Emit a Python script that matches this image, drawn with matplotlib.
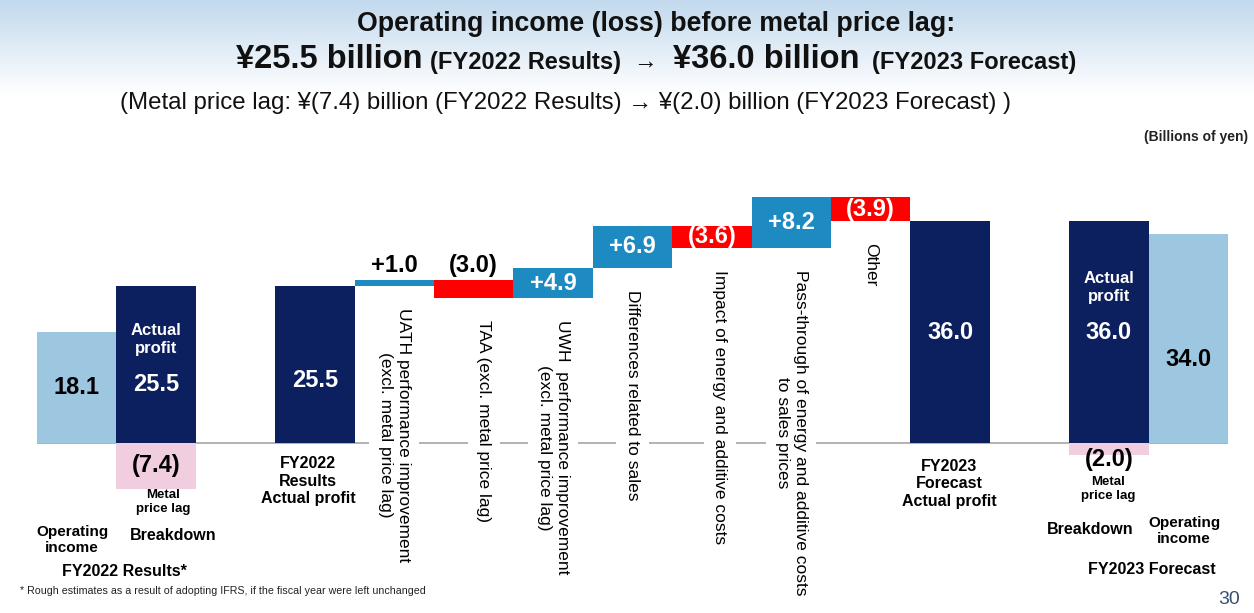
import numpy as np
import matplotlib.pyplot as plt

plt.rcParams['font.family'] = ['Liberation Sans', 'DejaVu Sans']

# 色
NAVY = '#0c1f5e'
LIGHT = '#9dc6e0'
TEAL = '#1d8bc2'
RED = '#ff0000'
PINK = '#f1cde0'

# データ（十億円）
fy22_op_income = 18.1
fy22_actual = 25.5
fy22_lag = -7.4

step_labels = ['UATH performance improvement\n(excl. metal price lag)',
               'TAA (excl. metal price lag)',
               'UWH  performance improvement\n(excl. metal price lag)',
               'Differences related to sales',
               'Impact of energy and additive costs',
               'Pass-through of energy and additive costs\nto sales prices',
               'Other']
step_values = [1.0, -3.0, 4.9, 6.9, -3.6, 8.2, -3.9]
step_texts = ['+1.0', '(3.0)', '+4.9', '+6.9', '(3.6)', '+8.2', '(3.9)']

fy23_actual = 36.0
fy23_lag = -2.0
fy23_op_income = 34.0

W, H = 1254, 613
fig = plt.figure(figsize=(W / 100, H / 100), dpi=100)


def ftext(x, y, s, **kw):
    # ピクセル座標でテキスト配置
    fig.text(x / W, 1 - y / H, s, **kw)


# ヘッダーのグラデーション
bg = fig.add_axes([0, 1 - 95 / H, 1, 95 / H])
grad = np.linspace(0, 1, 200)[:, None]
top = np.array([0.76, 0.85, 0.93])
rgb = top[None, None, :] * (1 - grad[..., None]) + np.ones(3)[None, None, :] * grad[..., None]
bg.imshow(rgb, aspect='auto', extent=[0, 1, 0, 1])
bg.axis('off')

# 軸の配置（ピクセル → 図座標）
px_per_unit = 6.16
base_px = 443
ax_top_px, ax_bot_px = 190, 600
ax = fig.add_axes([37 / W, 1 - ax_bot_px / H, (1228 - 37) / W, (ax_bot_px - ax_top_px) / H])
ax.set_xlim(-0.5, 14.5)
ax.set_ylim(-(ax_bot_px - base_px) / px_per_unit, (base_px - ax_top_px) / px_per_unit)
ax.axis('off')

ax.axhline(0, color='#a6a6a6', lw=1.2, zorder=0)

bold = dict(fontweight='bold')

# 左側：FY2022 営業利益の内訳
ax.bar(0, fy22_op_income, width=1.0, color=LIGHT, zorder=2)
ax.bar(1, fy22_actual, width=1.0, color=NAVY, zorder=2)
ax.bar(1, fy22_lag, width=1.0, color=PINK, zorder=2)
ax.text(0, fy22_op_income / 2, f'{fy22_op_income:.1f}', ha='center', va='center', fontsize=17, color='black', zorder=3, **bold)
ax.text(1, fy22_actual * 0.37, f'{fy22_actual:.1f}', ha='center', va='center', fontsize=17, color='white', zorder=3, **bold)
ax.text(1, fy22_actual * 0.66, 'Actual\nprofit', ha='center', va='center', fontsize=12, color='white', zorder=3, linespacing=1.25, **bold)
ax.text(1, fy22_lag / 2, f'({abs(fy22_lag):.1f})', ha='center', va='center', fontsize=17, color='black', zorder=3, **bold)

# FY2022 実質利益
ax.bar(3, fy22_actual, width=1.0, color=NAVY, zorder=2)
ax.text(3, fy22_actual * 0.4, f'{fy22_actual:.1f}', ha='center', va='center', fontsize=17, color='white', zorder=3, **bold)

# ウォーターフォール
steps = np.array(step_values)
ends = fy22_actual + np.cumsum(steps)
starts = ends - steps
xs = np.arange(4, 4 + len(steps))
label_dx = [0, 10, 0, 0, 8, 0, 0]
for x, s, st, en, txt, lab, dx in zip(xs, steps, starts, ends, step_texts, step_labels, label_dx):
    col = TEAL if s > 0 else RED
    ax.bar(x, s, bottom=st, width=1.0, color=col, zorder=2)
    lo, hi = min(st, en), max(st, en)
    if abs(s) >= 3.5:
        ax.text(x, (lo + hi) / 2, txt, ha='center', va='center', fontsize=17, color='white', zorder=3, **bold)
    else:
        ax.annotate(txt, (x, hi), xytext=(0, 2), textcoords='offset points',
                    ha='center', va='bottom', fontsize=17, color='black', zorder=3, **bold)
    ax.annotate(lab, (x, lo), xytext=(dx * 0.72, -16), textcoords='offset points',
                ha='center', va='top', rotation=270, fontsize=12.5, color='black',
                linespacing=1.25, zorder=3,
                bbox=dict(boxstyle='square,pad=0.5', fc='white', ec='none'))

# FY2023 実質利益予想
ax.bar(11, fy23_actual, width=1.0, color=NAVY, zorder=2)
ax.text(11, fy23_actual / 2, f'{fy23_actual:.1f}', ha='center', va='center', fontsize=17, color='white', zorder=3, **bold)

# 右側：FY2023 営業利益の内訳
ax.bar(13, fy23_actual, width=1.0, color=NAVY, zorder=2)
ax.bar(13, fy23_lag, width=1.0, color=PINK, zorder=2)
ax.bar(14, fy23_op_income, width=1.0, color=LIGHT, zorder=2)
ax.text(13, fy23_actual / 2, f'{fy23_actual:.1f}', ha='center', va='center', fontsize=17, color='white', zorder=3, **bold)
ax.text(13, fy23_actual * 0.7, 'Actual\nprofit', ha='center', va='center', fontsize=12, color='white', zorder=3, linespacing=1.25, **bold)
ax.text(13, fy23_lag - 0.6, f'({abs(fy23_lag):.1f})', ha='center', va='center', fontsize=17, color='black', zorder=3, **bold)
ax.text(14, fy23_op_income * 0.4, f'{fy23_op_income:.1f}', ha='center', va='center', fontsize=17, color='black', zorder=3, **bold)

# 下部のカテゴリ文字
ftext(163, 502, 'Metal\nprice lag', ha='center', va='center', fontsize=9.5, linespacing=1.3, **bold)
ftext(173, 536, 'Breakdown', ha='center', va='center', fontsize=11.5, **bold)
ftext(72, 540, 'Operating\nincome', ha='center', va='center', fontsize=11, linespacing=1.2, **bold)
ftext(124, 571, 'FY2022 Results*', ha='center', va='center', fontsize=11.5, **bold)
ftext(308, 481, 'FY2022\nResults\nActual profit', ha='center', va='center', fontsize=11.5, linespacing=1.2, **bold)
ftext(949, 484, 'FY2023\nForecast\nActual profit', ha='center', va='center', fontsize=11.5, linespacing=1.2, **bold)
ftext(1108, 489, 'Metal\nprice lag', ha='center', va='center', fontsize=9.5, linespacing=1.3, **bold)
ftext(1090, 530, 'Breakdown', ha='center', va='center', fontsize=11.5, **bold)
ftext(1184, 531, 'Operating\nincome', ha='center', va='center', fontsize=11, linespacing=1.2, **bold)
ftext(1152, 569, 'FY2023 Forecast', ha='center', va='center', fontsize=11.5, **bold)

# タイトル
ftext(656, 24, 'Operating income (loss) before metal price lag:', ha='center', va='center', fontsize=19.3, color='#111111', **bold)
ftext(236, 60, '¥25.5 billion', ha='left', va='center', fontsize=23.5, color='#111111', **bold)
ftext(430, 62, '(FY2022 Results)', ha='left', va='center', fontsize=17, color='#111111', **bold)
ftext(645, 62, '→', ha='center', va='center', fontsize=17, color='#111111')
ftext(673, 60, '¥36.0 billion', ha='left', va='center', fontsize=23.5, color='#111111', **bold)
ftext(1076, 62, '(FY2023 Forecast)', ha='right', va='center', fontsize=17, color='#111111', **bold)
ftext(566, 103, '(Metal price lag: ¥(7.4) billion (FY2022 Results) → ¥(2.0) billion (FY2023 Forecast) )',
      ha='center', va='center', fontsize=17.3, color='#111111')

ftext(1248, 137, '(Billions of yen)', ha='right', va='center', fontsize=10, color='#222222', **bold)
ftext(20, 591, '* Rough estimates as a result of adopting IFRS, if the fiscal year were left unchanged',
      ha='left', va='center', fontsize=7.7, color='#222222')
ftext(1240, 600, '30', ha='right', va='center', fontsize=14, color='#3b4f73')

fig.savefig('out.png', dpi=100)
